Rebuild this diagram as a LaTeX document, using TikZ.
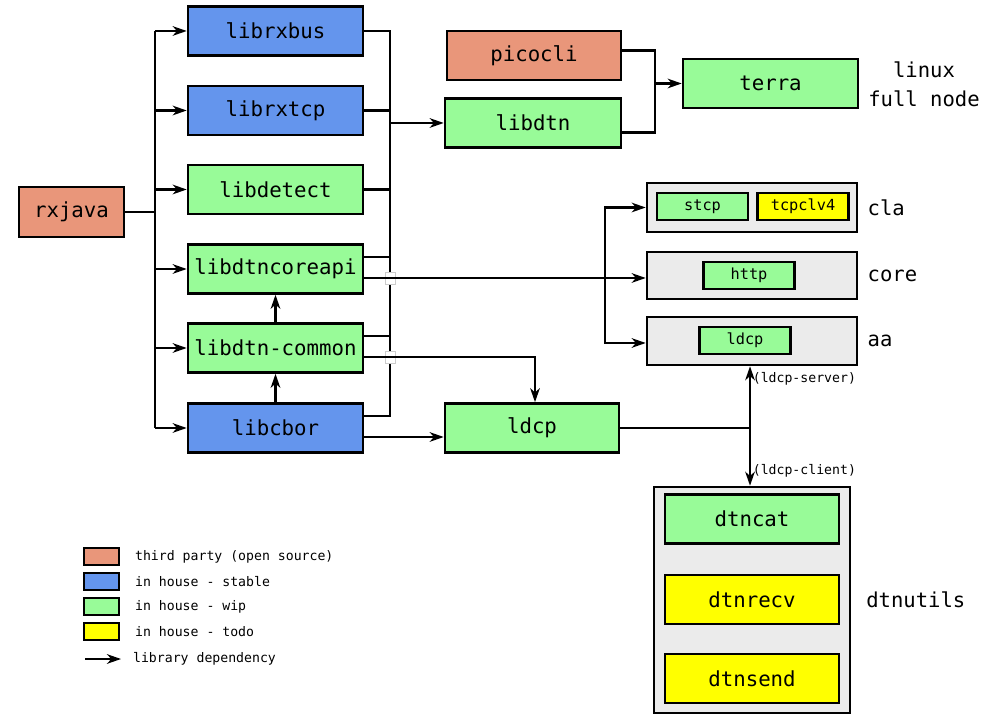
\documentclass[tikz,border=0pt]{standalone}
\usepackage{fontspec}
\setmonofont{DejaVu Sans Mono}
\usepackage{tikz}
\usetikzlibrary{shapes,arrows,arrows.meta}
\usetikzlibrary{positioning}
\definecolor{thirdparty}{RGB}{233,150,122}
\definecolor{stable}{RGB}{100,149,237}
\definecolor{wip}{RGB}{152,251,152}
\definecolor{todo}{RGB}{255,255,0}
\definecolor{groupbg}{RGB}{235,235,235}
\tikzset{box/.style={draw, line width=1.5pt, inner sep=2pt, minimum width=3.5cm,
    minimum height=0.98cm, font=\ttfamily\fontsize{11.8}{14}\selectfont},
  smallbox/.style={box, minimum width=1.82cm, minimum height=0.54cm,
    font=\ttfamily\fontsize{8.7}{10}\selectfont},
  group/.style={draw, line width=1.5pt, fill=groupbg, minimum width=4.2cm},
  grouplabel/.style={anchor=west, inner sep=0pt, font=\ttfamily\fontsize{11.7}{16.5}\selectfont},
  swatch/.style={draw, line width=1.5pt, minimum width=0.7cm, minimum height=0.34cm, inner sep=0pt},
  small text/.style={font=\ttfamily\fontsize{7.5}{9}\selectfont, inner sep=1pt},
  dep/.style={-{Stealth[length=8pt, width=5.5pt, inset=2.5pt]}, line width=1.2pt},
  wire/.style={line width=1.2pt},
  jump/.style={draw=black!20, fill=white, line width=0.4pt, minimum width=0.2cm,
    minimum height=0.24cm, inner sep=0pt}
}
\begin{document}
\begin{tikzpicture}[x=0.02cm, y=-0.02cm]
  \useasboundingbox (0,0) rectangle (996,715);
  % libraries
  \node[box, fill=thirdparty, minimum width=2.1cm, minimum height=1cm] (rxjava) at (71.5,212) {rxjava};
  \node[box, fill=stable] (librxbus)      at (275.5,31)    {librxbus};
  \node[box, fill=stable] (librxtcp)      at (275.5,110.5) {librxtcp};
  \node[box, fill=wip]    (libdetect)     at (275.5,189.5) {libdetect};
  \node[box, fill=wip]    (libdtncoreapi) at (275.5,269)   {libdtncoreapi};
  \node[box, fill=wip]    (libdtn_common) at (275.5,348)   {libdtn-common};
  \node[box, fill=stable] (libcbor)       at (275.5,428)   {libcbor};
  \node[box, fill=thirdparty, minimum width=3.48cm] (picocli) at (534,55.5) {picocli};
  \node[box, fill=wip, minimum width=3.52cm]        (libdtn)  at (533,123)  {libdtn};
  \node[box, fill=wip, minimum width=3.48cm]        (ldcp)    at (532,428) {ldcp};
  \node[box, fill=wip] (terra) at (770.5,83.5) {terra};
  \node[grouplabel, anchor=center, align=center] (terra_label) at (924,84) {linux\\full node};
  % cla / core / aa
  \node[group, minimum height=0.98cm] (cla)  at (752,207.5) {};
  \node[group, minimum height=0.94cm] (core) at (752,275.5) {};
  \node[group, minimum height=0.96cm] (aa)   at (752,341)   {};
  \node[smallbox, fill=wip]  (stcp)    at (702.5,206.5) {stcp};
  \node[smallbox, fill=todo] (tcpclv4) at (803,206.5)   {tcpclv4};
  \node[smallbox, fill=wip]  (http)    at (749,275.5)   {http};
  \node[smallbox, fill=wip]  (ldcp_aa) at (745,340.5)   {ldcp};
  \node[grouplabel] (cla_label)  at ([xshift=0.18cm]cla.east)  {cla};
  \node[grouplabel] (core_label) at ([xshift=0.18cm]core.east) {core};
  \node[grouplabel] (aa_label)   at ([xshift=0.18cm]aa.east)   {aa};
  % dtnutils
  \node[group, minimum width=3.92cm, minimum height=4.52cm] (dtnutils) at (752,600) {};
  \node[box, fill=wip,  minimum width=3.48cm] (dtncat)  at (752,519)   {dtncat};
  \node[box, fill=todo, minimum width=3.48cm] (dtnrecv) at (752,599.5) {dtnrecv};
  \node[box, fill=todo, minimum width=3.48cm] (dtnsend) at (752,678.5) {dtnsend};
  \node[grouplabel] (dtnutils_label) at (866,600) {dtnutils};

  % rxjava fan-out
  \coordinate (fork) at (155,212);
  \draw[wire] (rxjava) -- (fork);
  \draw[wire] (fork |- librxbus) -- (fork |- libcbor);
  \foreach \n in {librxbus,librxtcp,libdetect,libdtncoreapi,libdtn_common,libcbor}
    \draw[dep] (fork |- \n) -- (\n.west);

  % bus into libdtn
  \coordinate (bus) at (390,123);
  \coordinate (api_hi) at ([yshift=0.24cm]libdtncoreapi.east);
  \coordinate (com_hi) at ([yshift=0.24cm]libdtn_common.east);
  \coordinate (cbr_hi) at ([yshift=0.24cm]libcbor.east);
  \draw[wire] (librxbus.east) -| (cbr_hi -| bus) -- (cbr_hi);
  \foreach \n in {librxtcp.east,libdetect.east,api_hi,com_hi}
    \draw[wire] (\n) -- (\n -| bus);
  \draw[dep] (bus) -- (libdtn.west);

  % libdtncoreapi -> cla, core, aa
  \coordinate (api_lo) at ([yshift=-0.18cm]libdtncoreapi.east);
  \coordinate (com_lo) at ([yshift=-0.18cm]libdtn_common.east);
  \coordinate (cbr_lo) at ([yshift=-0.18cm]libcbor.east);
  \node[jump] (jump_api) at (api_lo -| bus) {};
  \node[jump] (jump_com) at (com_lo -| bus) {};
  \coordinate (tap) at (605,0 |- api_lo);
  \draw[dep] (api_lo) -- (api_lo -| core.west);
  \draw[dep] (tap) |- (cla.west);
  \draw[dep] (tap) |- ([yshift=-0.04cm]aa.west);

  % into ldcp
  \draw[dep] (com_lo) -| ([xshift=0.06cm]ldcp.north);
  \draw[dep] (cbr_lo) -- (cbr_lo -| ldcp.west);
  \draw[dep] (libdtn_common) -- (libdtncoreapi);
  \draw[dep] (libcbor) -- (libdtn_common);

  % terra
  \coordinate (merge) at (655,83.5);
  \draw[wire] ([yshift=0.1cm]picocli.east) -| (merge) |- ([yshift=-0.19cm]libdtn.east);
  \draw[dep] (merge) -- (terra.west);

  % ldcp server / client
  \coordinate (split) at (750,0 |- ldcp.east);
  \draw[wire] (ldcp.east) -- (split);
  \draw[dep] (split) -- (split |- aa.south)
    node[small text, anchor=west, pos=0.8] (server_label) {(ldcp-server)};
  \draw[dep] (split) -- (split |- dtnutils.north)
    node[small text, anchor=west, pos=0.74] (client_label) {(ldcp-client)};

  % legend
  \node[swatch, fill=thirdparty] (leg_3rd)    at (101.5,556.5) {};
  \node[swatch, fill=stable]     (leg_stable) at (101.5,581.5) {};
  \node[swatch, fill=wip]        (leg_wip)    at (101.5,606.5) {};
  \node[swatch, fill=todo]       (leg_todo)   at (101.5,631.5) {};
  \node[small text, anchor=west] at (133,556.5) {third party (open source)};
  \node[small text, anchor=west] at (133,581.5) {in house - stable};
  \node[small text, anchor=west] at (133,606.5) {in house - wip};
  \node[small text, anchor=west] at (133,631.5) {in house - todo};
  \coordinate (leg_from) at (85,659);
  \coordinate (leg_to) at (121,659);
  \node[small text, anchor=west] (leg_dep) at (131,659) {library dependency};
  \draw[dep] (leg_from) -- (leg_to);
\end{tikzpicture}
\end{document}
